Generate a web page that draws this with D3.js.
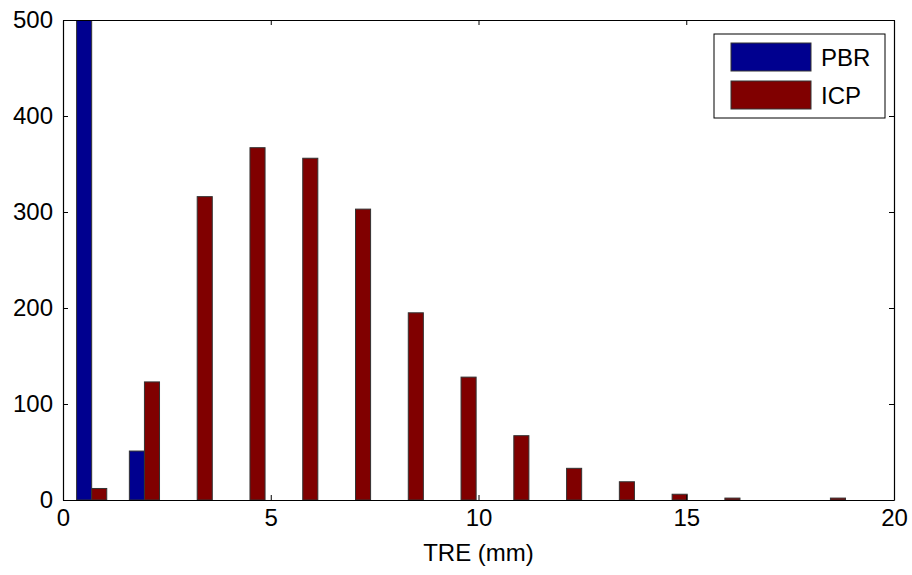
<!DOCTYPE html>
<html>
<head>
<meta charset="utf-8">
<script src="https://cdn.jsdelivr.net/npm/d3@7"></script>
<style>
  body { margin: 0; background: #fff; }
  text { font-family: "Liberation Sans", Arial, sans-serif; }
</style>
</head>
<body>
<script>
// histogram bin centres (mm)
var binCenters = [0.69, 1.96, 3.23, 4.50, 5.77, 7.04, 8.31, 9.58, 10.85, 12.12, 13.39, 14.66, 15.93, 17.20, 18.47];
var seriesNames = ["PBR", "ICP"];
var pbrCounts = [500, 51, 0, 0, 0, 0, 0, 0, 0, 0, 0, 0, 0, 0, 0];
var icpCounts = [12, 123, 316, 367, 356, 303, 195, 128, 67, 33, 19, 6, 2, 0, 2];
var seriesColors = ["#00008f", "#800000"];
var xTicks = [0, 5, 10, 15, 20];
var yTicks = [0, 100, 200, 300, 400, 500];

var W = 912, H = 575;
var margin = {top: 20, right: 18, bottom: 75, left: 63};
var width = W - margin.left - margin.right;
var height = H - margin.top - margin.bottom;

var x = d3.scaleLinear().domain([0, 20]).range([0, width]);
var y = d3.scaleLinear().domain([0, 500]).range([height, 0]);

var svg = d3.select("body").append("svg")
    .attr("width", W)
    .attr("height", H);

svg.append("defs").append("clipPath").attr("id", "plotclip")
  .append("rect").attr("width", width).attr("height", height);

var g = svg.append("g")
    .attr("transform", "translate(" + margin.left + "," + margin.top + ")");

// grouped bars, matlab style: group width = 2/3.5 of bin spacing
var spacing = binCenters[1] - binCenters[0];
var groupW = spacing * 2 / 3.5;
var barW = groupW / 2;
var series = [pbrCounts, icpCounts];

var bars = g.append("g").attr("clip-path", "url(#plotclip)");
series.forEach(function(vals, s) {
  bars.selectAll(".bar" + s)
    .data(vals)
    .enter().append("rect")
    .attr("x", function(d, i) { return x(binCenters[i] - groupW / 2 + s * barW); })
    .attr("width", x(barW) - x(0))
    .attr("y", function(d) { return y(d); })
    .attr("height", function(d) { return y(0) - y(d); })
    .attr("fill", seriesColors[s])
    .attr("stroke", "#333")
    .attr("stroke-width", 1);
});

// box with inward ticks
var axB = d3.axisBottom(x).tickValues(xTicks).tickSizeInner(-5).tickSizeOuter(0).tickPadding(9);
var axT = d3.axisTop(x).tickValues(xTicks).tickSizeInner(-5).tickSizeOuter(0).tickFormat("");
var axL = d3.axisLeft(y).tickValues(yTicks).tickSizeInner(-5).tickSizeOuter(0).tickPadding(10);
var axR = d3.axisRight(y).tickValues(yTicks).tickSizeInner(-5).tickSizeOuter(0).tickFormat("");

g.append("g").attr("transform", "translate(0," + height + ")").call(axB);
g.append("g").call(axT);
g.append("g").call(axL);
g.append("g").attr("transform", "translate(" + width + ",0)").call(axR);

g.selectAll(".domain").attr("stroke", "#000").attr("stroke-width", 1.2);
g.selectAll(".tick line").attr("stroke", "#000");
g.selectAll(".tick text")
  .attr("font-size", 24)
  .attr("font-family", "'Liberation Sans', Arial, sans-serif")
  .attr("fill", "#000");

// x label
g.append("text")
  .attr("x", width / 2)
  .attr("y", height + 61)
  .attr("text-anchor", "middle")
  .attr("font-size", 24)
  .attr("fill", "#000")
  .text("TRE (mm)");

// legend
var leg = svg.append("g").attr("transform", "translate(714,34)");
leg.append("rect")
  .attr("width", 171).attr("height", 84)
  .attr("fill", "#fff").attr("stroke", "#000").attr("stroke-width", 1);
seriesNames.forEach(function(name, i) {
  leg.append("rect")
    .attr("x", 17).attr("y", 9 + i * 38)
    .attr("width", 80).attr("height", 28)
    .attr("fill", seriesColors[i])
    .attr("stroke", "#333");
  leg.append("text")
    .attr("x", 107).attr("y", 23 + i * 38)
    .attr("dy", "0.36em")
    .attr("font-size", 24)
    .attr("fill", "#000")
    .text(name);
});
</script>
</body>
</html>
